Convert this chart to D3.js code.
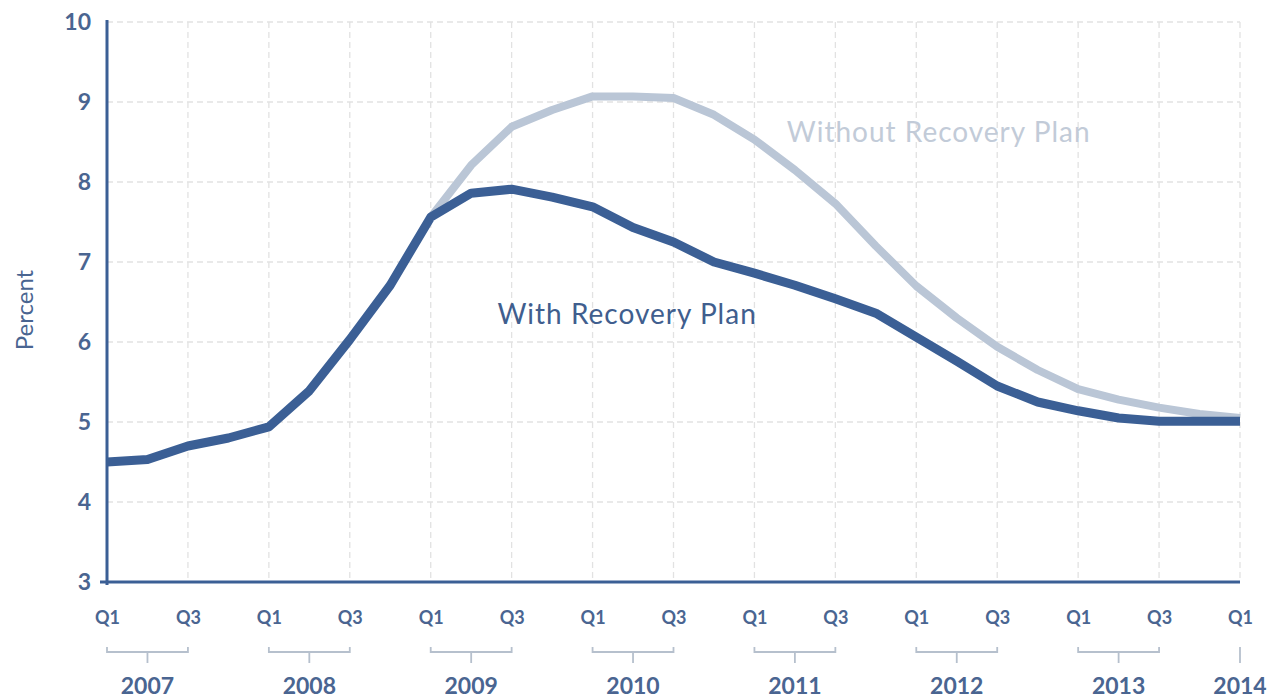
<!DOCTYPE html>
<html>
<head>
<meta charset="utf-8">
<script src="https://cdn.jsdelivr.net/npm/d3@7"></script>
<style>
  html, body { margin: 0; padding: 0; background: #fff; }
  svg { display: block; font-family: Lato, "Open Sans", sans-serif; }
</style>
</head>
<body>
<div id="chart"></div>
<script>
// quarters run from 2007 Q1 to 2014 Q1
var years = [2007, 2008, 2009, 2010, 2011, 2012, 2013, 2014];
var quarterNames = ['Q1', 'Q2', 'Q3', 'Q4'];
var yTicks = [3, 4, 5, 6, 7, 8, 9, 10];

// unemployment rate, percent
var withPlan = [4.5, 4.53, 4.7, 4.8, 4.94, 5.39, 6.03, 6.71,
                7.56, 7.86, 7.91, 7.81, 7.69, 7.43, 7.25, 7.0,
                6.86, 6.71, 6.54, 6.36, 6.06, 5.76, 5.45, 5.25,
                5.14, 5.05, 5.01, 5.01, 5.01];
var withoutPlan = [null, null, null, null, null, null, null, null,
                   7.56, 8.21, 8.69, 8.9, 9.07, 9.07, 9.05, 8.84,
                   8.53, 8.15, 7.73, 7.2, 6.7, 6.3, 5.94, 5.65,
                   5.41, 5.28, 5.18, 5.1, 5.05];

var seriesLabels = [
  {text: 'Without Recovery Plan', q: 16.8, v: 8.5, color: '#c2cbd8'},
  {text: 'With Recovery Plan', q: 9.65, v: 6.23, color: '#405e8e'}
];

var W = 1272, H = 698;
var margin = {left: 107, right: 32, top: 22, bottom: 116};
var darkBlue = '#3b5f95', lightBlue = '#bac6d6', labelColor = '#4a6591', gridColor = '#e2e2e2';

var quarters = [];
years.forEach(function(y) {
  quarterNames.forEach(function(q) {
    if (y < 2014 || q === 'Q1') quarters.push({year: y, q: q});
  });
});

var x = d3.scaleLinear().domain([0, quarters.length - 1]).range([margin.left, W - margin.right]);
var y = d3.scaleLinear().domain([3, 10]).range([H - margin.bottom, margin.top]);

var svg = d3.select('#chart').append('svg').attr('width', W).attr('height', H);

/*grid*/
var evenIdx = d3.range(0, quarters.length, 2);
svg.append('g').selectAll('line.hgrid').data(yTicks.slice(1)).enter().append('line')
  .attr('x1', x(0)).attr('x2', x(quarters.length - 1))
  .attr('y1', function(d) { return y(d); }).attr('y2', function(d) { return y(d); })
  .style('stroke', gridColor).style('stroke-width', 1.3).style('stroke-dasharray', '6,4');
svg.append('g').selectAll('line.vgrid').data(evenIdx.slice(1)).enter().append('line')
  .attr('x1', function(d) { return x(d); }).attr('x2', function(d) { return x(d); })
  .attr('y1', y(10)).attr('y2', y(3))
  .style('stroke', gridColor).style('stroke-width', 1.3).style('stroke-dasharray', '6,4');

/*axes*/
var yAxis = svg.append('g').attr('transform', 'translate(' + margin.left + ',0)')
  .call(d3.axisLeft(y).tickValues(yTicks).tickSize(0).tickPadding(16).tickFormat(d3.format('d')));
yAxis.select('.domain').remove();
yAxis.selectAll('text').style('font-size', '23px').style('font-weight', 'bold')
  .style('fill', labelColor).style('font-family', 'Lato');

var xAxis = svg.append('g').attr('transform', 'translate(0,' + y(3) + ')')
  .call(d3.axisBottom(x).tickValues(evenIdx).tickSize(0).tickPadding(29)
    .tickFormat(function(i) { return quarters[i].q; }));
xAxis.select('.domain').remove();
xAxis.selectAll('text').style('font-size', '18px').style('font-weight', 'bold')
  .style('fill', labelColor).style('font-family', 'Lato');

svg.append('line').attr('x1', margin.left).attr('x2', margin.left)
  .attr('y1', y(10) - 2).attr('y2', y(3) + 3)
  .style('stroke', darkBlue).style('stroke-width', 3);
svg.append('line').attr('x1', margin.left - 7).attr('x2', x(quarters.length - 1))
  .attr('y1', y(3)).attr('y2', y(3))
  .style('stroke', darkBlue).style('stroke-width', 3);

/*year brackets*/
var bracketY = y(3) + 70;
var yearGroups = years.map(function(yr) {
  var first = quarters.findIndex(function(d) { return d.year === yr; });
  var last = yr < 2014 ? first + 2 : first;
  return {year: yr, a: first, b: last};
});
var br = svg.append('g').selectAll('g.year').data(yearGroups).enter().append('g');
br.append('path')
  .attr('d', function(d) {
    if (d.a === d.b) return 'M' + x(d.a) + ',' + (bracketY - 5) + 'V' + (bracketY + 11);
    var m = (x(d.a) + x(d.b)) / 2;
    return 'M' + x(d.a) + ',' + (bracketY - 5) + 'V' + bracketY + 'H' + x(d.b) + 'V' + (bracketY - 5) +
      'M' + m + ',' + bracketY + 'V' + (bracketY + 11);
  })
  .style('fill', 'none').style('stroke', '#b6c0cd').style('stroke-width', 1.8);
br.append('text')
  .attr('x', function(d) { return (x(d.a) + x(d.b)) / 2; })
  .attr('y', bracketY + 42)
  .attr('text-anchor', 'middle')
  .style('font-size', '23px').style('font-weight', 'bold').style('fill', labelColor)
  .text(function(d) { return d.year; });

/*y title*/
svg.append('text')
  .attr('transform', 'translate(33,' + ((y(3) + y(10)) / 2 + 8) + ') rotate(-90)')
  .attr('text-anchor', 'middle')
  .style('font-size', '24px').style('fill', labelColor)
  .text('Percent');

/*lines*/
var line = d3.line()
  .defined(function(d) { return d != null; })
  .x(function(d, i) { return x(i); })
  .y(function(d) { return y(d); });

svg.append('path').datum(withoutPlan).attr('d', line)
  .style('fill', 'none').style('stroke', lightBlue).style('stroke-width', 8)
  .style('stroke-linejoin', 'round');
svg.append('path').datum(withPlan).attr('d', line)
  .style('fill', 'none').style('stroke', darkBlue).style('stroke-width', 9)
  .style('stroke-linejoin', 'round');

/*series labels*/
svg.append('g').selectAll('text').data(seriesLabels).enter().append('text')
  .attr('x', function(d) { return x(d.q); })
  .attr('y', function(d) { return y(d.v); })
  .style('font-size', '28px').style('letter-spacing', '1px')
  .style('fill', function(d) { return d.color; })
  .text(function(d) { return d.text; });
</script>
</body>
</html>
